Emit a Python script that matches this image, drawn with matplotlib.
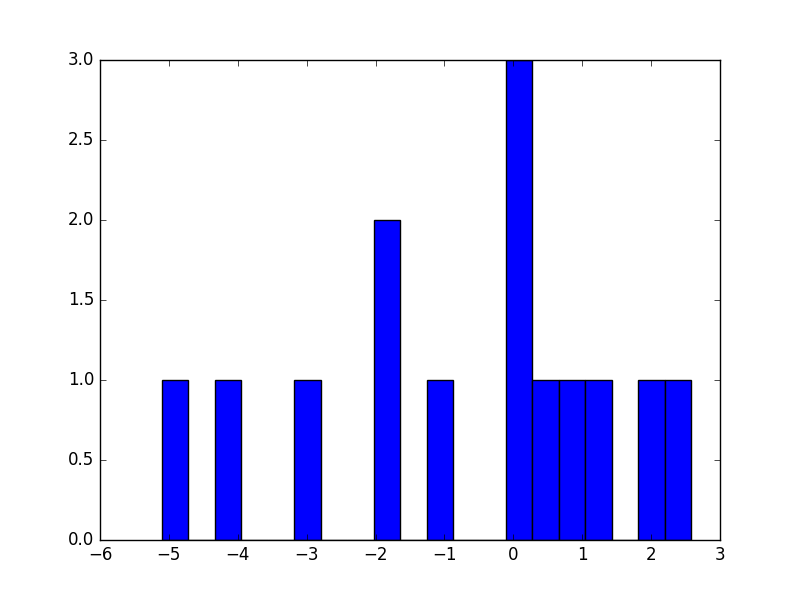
import matplotlib
matplotlib.use('Agg')
import matplotlib.pyplot as plt
import numpy as np

plt.style.use('classic')

# histogram: 20 equal bins between the data min and max
data_min = -5.1
data_max = 2.58
counts = [1, 0, 1, 0, 0, 1, 0, 0, 2, 0, 1, 0, 0, 3, 1, 1, 1, 0, 1, 1]

edges = np.linspace(data_min, data_max, len(counts) + 1)

fig, ax = plt.subplots(figsize=(8, 6), dpi=100)
ax.hist(edges[:-1], bins=edges, weights=counts, color='blue', edgecolor='black')
ax.set_xlim(-6, 3)
ax.set_ylim(0, 3)

fig.savefig('out.png', dpi=100)
